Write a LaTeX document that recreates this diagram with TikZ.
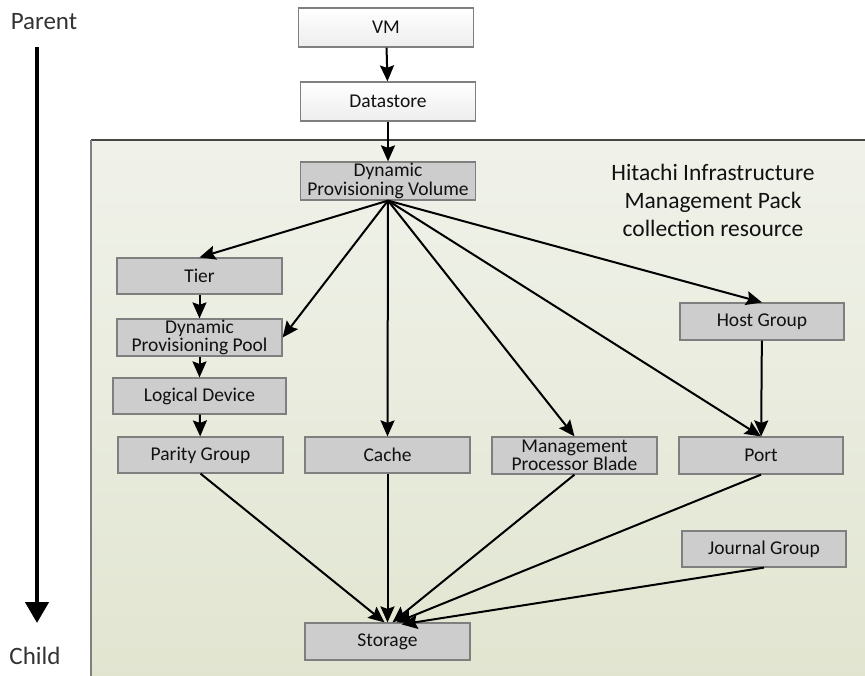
\documentclass[tikz,border=0pt]{standalone}
\usepackage{fontspec}
\setmainfont{Carlito}
\usetikzlibrary{arrows.meta}
\definecolor{boxgray}{HTML}{CDCDCD}
\definecolor{edgegray}{HTML}{7F7F7F}
\definecolor{paneltop}{HTML}{F0F2EA}
\definecolor{panelbot}{HTML}{E1E5D0}
\definecolor{inktext}{HTML}{111111}
\begin{document}
\begin{tikzpicture}[x=1pt,y=-1pt,
  res/.style={draw=edgegray, line width=1.2pt, fill=boxgray, minimum width=165pt,
    minimum height=36pt, inner sep=0pt, align=center,
    font=\fontsize{19.5}{18.5}\selectfont, text=inktext},
  vmbox/.style={res, top color=white, bottom color=gray!14, minimum width=175pt, minimum height=39pt},
  link/.style={line width=2pt, -{Stealth[length=16pt,width=14pt,inset=2.5pt]}},
  axislabel/.style={font=\fontsize{25}{30}\selectfont, text=black!80},
]
\useasboundingbox (0,0) rectangle (865,675);

% collection panel
\fill[top color=paneltop, bottom color=panelbot] (91,140) rectangle (870,680);
\draw[line width=1.5pt, gray!55!black] (91,140) -- (870,140);
\draw[line width=2pt, edgegray] (91,140) -- (91,680);

\node[align=center, font=\fontsize{23.5}{28}\selectfont, text=inktext] (title) at (713,200)
  {Hitachi Infrastructure\\Management Pack\\collection resource};

% parent / child axis
\node[axislabel] (parent) at (44,22) {Parent};
\node[axislabel] (child) at (35,656) {Child};
\coordinate (axtop) at (37,47);
\coordinate (axbot) at (37,623);
\draw[line width=4.5pt, -{Triangle[length=21pt,width=23pt]}] (axtop) -- (axbot);

% resources
\node[vmbox] (vm) at (386,27.5) {VM};
\node[vmbox] (ds) at (388,101.5) {Datastore};
\node[res, minimum width=175pt, minimum height=38pt] (dpv) at (388,181) {Dynamic\\Provisioning Volume};
\node[res] (tier) at (199.5,276) {Tier};
\node[res, minimum height=37pt] (dpp) at (199.5,337.5) {Dynamic\\Provisioning Pool};
\node[res, minimum width=173pt] (ld) at (199.5,396) {Logical Device};
\node[res] (pg) at (200.5,455) {Parity Group};
\node[res] (cache) at (387.5,455) {Cache};
\node[res, minimum height=37pt] (mpb) at (574.5,455.5) {Management\\Processor Blade};
\node[res, minimum width=164pt, minimum height=37pt] (port) at (761,455.5) {Port};
\node[res, minimum width=164pt, minimum height=37pt] (host) at (762,321.5) {Host Group};
\node[res, minimum width=164pt] (journal) at (764,549) {Journal Group};
\node[res, minimum height=37pt] (storage) at (387.5,641.5) {Storage};

% relations
\draw[link] (vm) -- (ds);
\draw[link] (ds) -- (dpv);
\draw[link] (dpv.south) -- (tier.north);
\draw[link] (dpv.south) -- (dpp.east);
\draw[link] (dpv.south) -- (cache.north);
\draw[link] (dpv.south) -- (mpb.north);
\draw[link] (dpv.south) -- (port.north);
\draw[link] (dpv.south) -- (host.north);
\draw[link] (host) -- (port);
\draw[link] (tier) -- (dpp);
\draw[link] (dpp) -- (ld);
\draw[link] (ld) -- (pg);
\draw[link] (pg.south) -- ([xshift=-3pt]storage.north);
\draw[link] (cache.south) -- (storage.north);
\draw[link] (mpb.south) -- ([xshift=5pt]storage.north);
\draw[link] (port.south) -- ([xshift=9pt]storage.north);
\draw[link] (journal.south) -- ([xshift=14pt,yshift=-2pt]storage.north);
\end{tikzpicture}
\end{document}
